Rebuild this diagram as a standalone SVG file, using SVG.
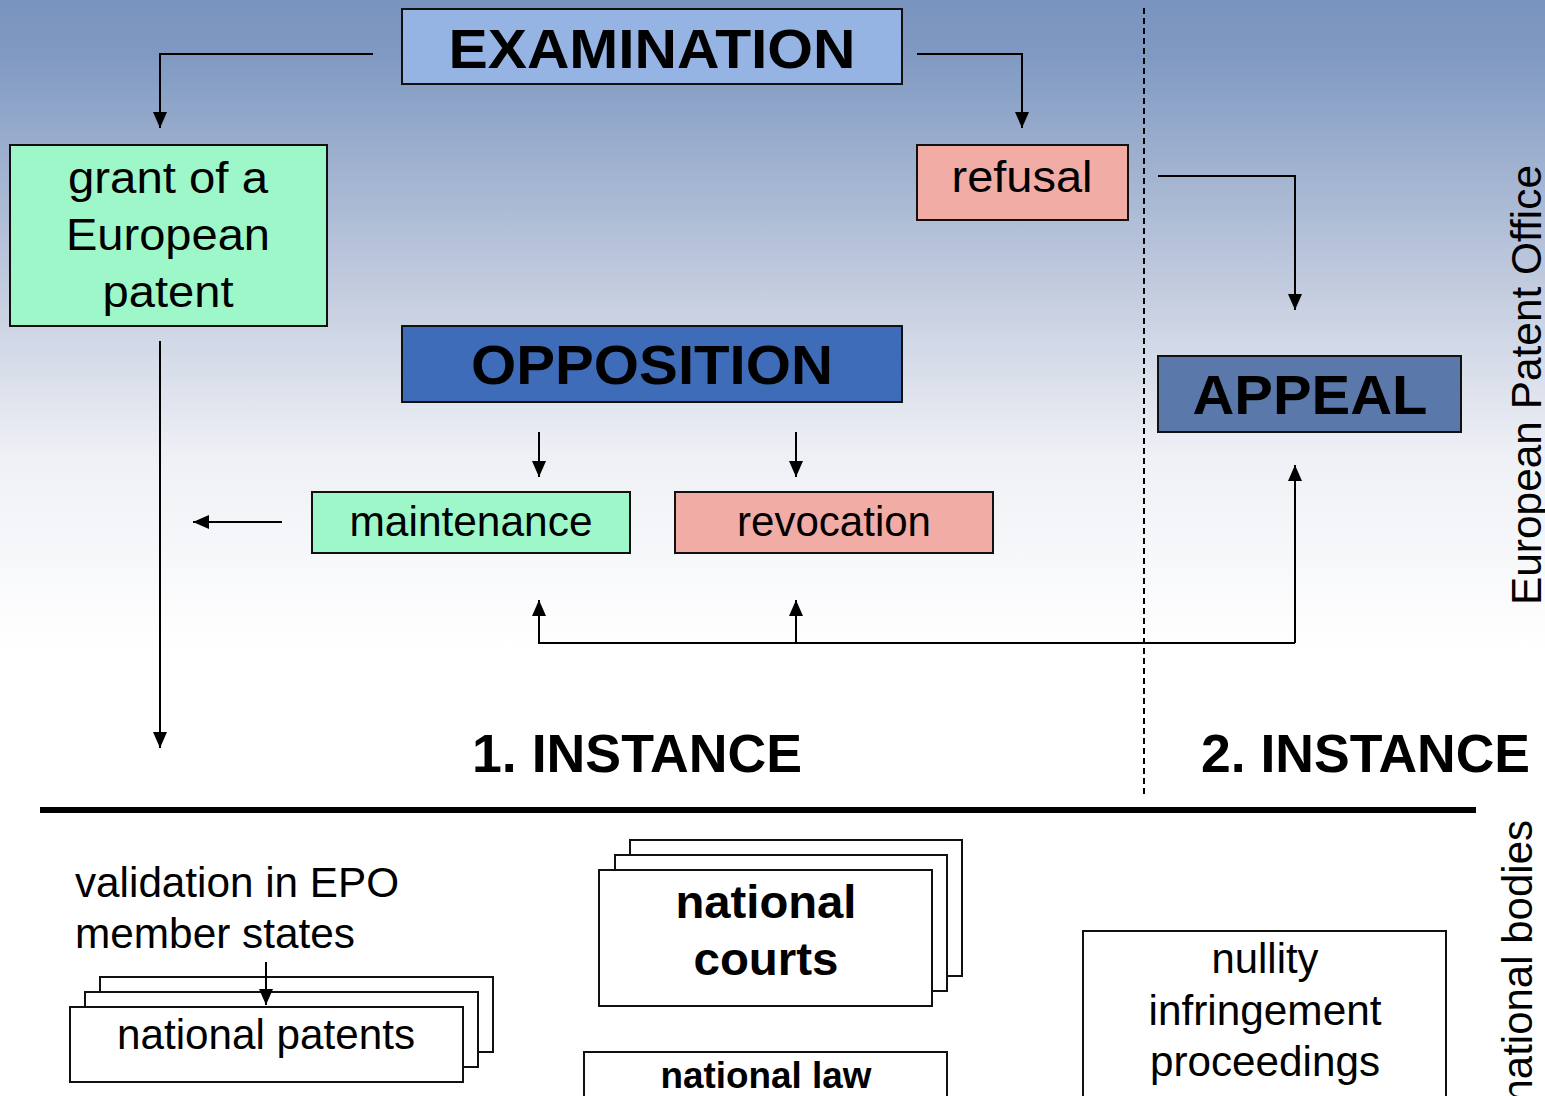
<svg xmlns="http://www.w3.org/2000/svg" width="1545" height="1096" viewBox="0 0 1545 1096">
<defs>
<linearGradient id="bg" x1="0" y1="0" x2="0" y2="650" gradientUnits="userSpaceOnUse">
<stop offset="0" stop-color="#7994bf"/>
<stop offset="0.08" stop-color="#7f99c2"/>
<stop offset="0.45" stop-color="#c4cddf"/>
<stop offset="0.7" stop-color="#eef0f5"/>
<stop offset="1" stop-color="#ffffff"/>
</linearGradient>
<marker id="ah" markerUnits="userSpaceOnUse" markerWidth="16" markerHeight="14" refX="16" refY="7" orient="auto">
<path d="M0,0 L16,7 L0,14 z" fill="#000"/>
</marker>
<style>
.box{stroke:#111;stroke-width:2}
.w{fill:#fff;stroke:#111;stroke-width:2}
.t{font-family:"Liberation Sans",Arial,sans-serif;fill:#000}
.b{font-weight:bold}
.c{text-anchor:middle}
.con{fill:none;stroke:#000;stroke-width:2}
</style>
</defs>
<rect x="0" y="0" width="1545" height="1096" fill="url(#bg)"/>
<line x1="1144" y1="8" x2="1144" y2="795" stroke="#000" stroke-width="2" stroke-dasharray="6 4"/>
<line x1="40" y1="810" x2="1476" y2="810" stroke="#000" stroke-width="6"/>

<g id="examination">
<rect class="box" x="402" y="9" width="500" height="75" fill="#95b3e3"/>
<text class="t b c" x="652" y="68" font-size="56" textLength="407" lengthAdjust="spacingAndGlyphs">EXAMINATION</text>
</g>
<g id="grant">
<rect class="box" x="10" y="145" width="317" height="181" fill="#9ef7c8"/>
<text class="t c" x="168" y="193" font-size="44" textLength="200" lengthAdjust="spacingAndGlyphs">grant of a</text>
<text class="t c" x="168" y="250" font-size="44" textLength="204" lengthAdjust="spacingAndGlyphs">European</text>
<text class="t c" x="168" y="307" font-size="44" textLength="131" lengthAdjust="spacingAndGlyphs">patent</text>
</g>
<g id="refusal">
<rect class="box" x="917" y="145" width="211" height="75" fill="#f2aca6"/>
<text class="t c" x="1022" y="192" font-size="44" textLength="141" lengthAdjust="spacingAndGlyphs">refusal</text>
</g>
<g id="opposition">
<rect class="box" x="402" y="326" width="500" height="76" fill="#3e6cb9"/>
<text class="t b c" x="652" y="384" font-size="56" textLength="362" lengthAdjust="spacingAndGlyphs">OPPOSITION</text>
</g>
<g id="appeal">
<rect class="box" x="1158" y="356" width="303" height="76" fill="#5a79aa"/>
<text class="t b c" x="1310" y="414" font-size="56" textLength="235" lengthAdjust="spacingAndGlyphs">APPEAL</text>
</g>
<g id="maintenance">
<rect class="box" x="312" y="492" width="318" height="61" fill="#9ef7c8"/>
<text class="t c" x="471" y="536" font-size="43" textLength="243" lengthAdjust="spacingAndGlyphs">maintenance</text>
</g>
<g id="revocation">
<rect class="box" x="675" y="492" width="318" height="61" fill="#f2aca6"/>
<text class="t c" x="834" y="536" font-size="43" textLength="194" lengthAdjust="spacingAndGlyphs">revocation</text>
</g>

<g id="labels">
<text class="t b" x="472" y="772" font-size="53" textLength="330" lengthAdjust="spacingAndGlyphs">1. INSTANCE</text>
<text class="t b" x="1201" y="772" font-size="53" textLength="329" lengthAdjust="spacingAndGlyphs">2. INSTANCE</text>
<text class="t c" transform="translate(1541,385) rotate(-90)" x="0" y="0" font-size="42" textLength="440" lengthAdjust="spacingAndGlyphs">European Patent Office</text>
<text class="t" transform="translate(1532,820) rotate(-90)" x="0" y="0" font-size="42" text-anchor="end">national bodies</text>
</g>

<g id="validation">
<text class="t" x="75" y="897" font-size="42" textLength="324" lengthAdjust="spacingAndGlyphs">validation in EPO</text>
<text class="t" x="75" y="948" font-size="42" textLength="280" lengthAdjust="spacingAndGlyphs">member states</text>
</g>
<g id="national-patents">
<rect class="w" x="100" y="977" width="393" height="75"/>
<rect class="w" x="85" y="992" width="393" height="75"/>
<rect class="w" x="70" y="1007" width="393" height="75"/>
<text class="t c" x="266" y="1049" font-size="42" textLength="298" lengthAdjust="spacingAndGlyphs">national patents</text>
</g>
<g id="national-courts">
<rect class="w" x="630" y="840" width="332" height="136"/>
<rect class="w" x="615" y="855" width="332" height="136"/>
<rect class="w" x="599" y="870" width="333" height="136"/>
<text class="t b c" x="766" y="918" font-size="47" textLength="181" lengthAdjust="spacingAndGlyphs">national</text>
<text class="t b c" x="766" y="975" font-size="47" textLength="145" lengthAdjust="spacingAndGlyphs">courts</text>
</g>
<g id="national-law">
<rect class="w" x="584" y="1052" width="363" height="60"/>
<text class="t b c" x="766" y="1088" font-size="37" textLength="211" lengthAdjust="spacingAndGlyphs">national law</text>
</g>
<g id="proceedings">
<rect class="w" x="1083" y="931" width="363" height="180"/>
<text class="t c" x="1265" y="973" font-size="42" textLength="107" lengthAdjust="spacingAndGlyphs">nullity</text>
<text class="t c" x="1265" y="1025" font-size="42" textLength="233" lengthAdjust="spacingAndGlyphs">infringement</text>
<text class="t c" x="1265" y="1076" font-size="42" textLength="230" lengthAdjust="spacingAndGlyphs">proceedings</text>
</g>

<g id="connectors">
<path class="con" d="M373,54 H160 V128" marker-end="url(#ah)"/>
<path class="con" d="M917,54 H1022 V128" marker-end="url(#ah)"/>
<path class="con" d="M1158,176 H1295 V310" marker-end="url(#ah)"/>
<path class="con" d="M160,341 V748" marker-end="url(#ah)"/>
<path class="con" d="M539,432 V477" marker-end="url(#ah)"/>
<path class="con" d="M796,432 V477" marker-end="url(#ah)"/>
<path class="con" d="M282,522 H193" marker-end="url(#ah)"/>
<path class="con" d="M1295,643 V465" marker-end="url(#ah)"/>
<path class="con" d="M1295,643 H539 V600" marker-end="url(#ah)"/>
<path class="con" d="M796,643 V600" marker-end="url(#ah)"/>
<path class="con" d="M266,962 V1005" marker-end="url(#ah)"/>
</g>
</svg>
